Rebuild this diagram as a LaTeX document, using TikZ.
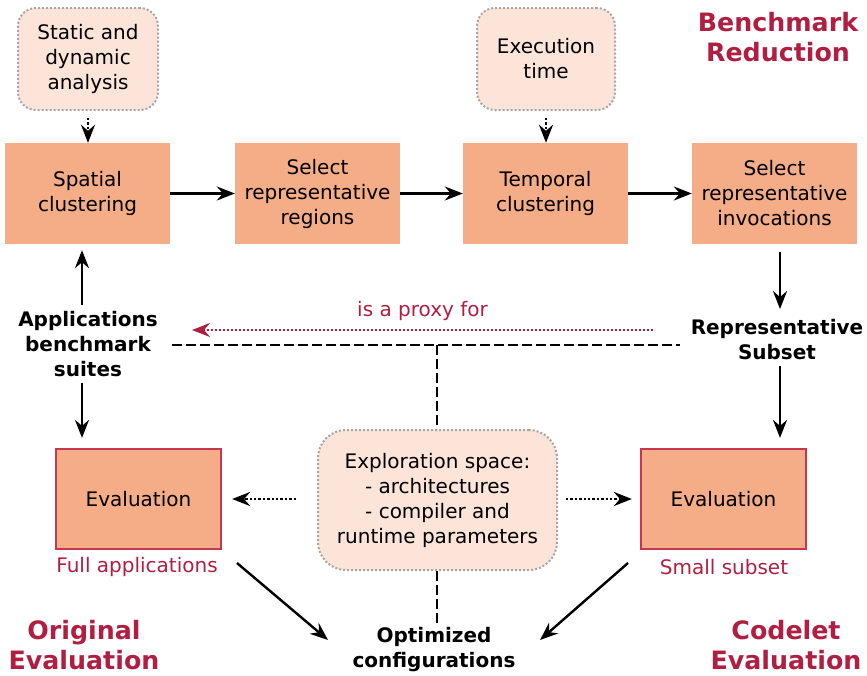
\documentclass[tikz,border=0pt]{standalone}
\usepackage{fontspec}
\setmainfont{DejaVu Sans}
\usetikzlibrary{arrows.meta}
\definecolor{salmon}{HTML}{F5AD87}
\definecolor{peach}{HTML}{FCE4D8}
\definecolor{crim}{HTML}{B01E42}
\definecolor{bordr}{HTML}{C8374F}
\begin{document}
\begin{tikzpicture}[x=1pt,y=-1pt,
 every node/.style={font=\fontsize{20}{25}\selectfont, align=center, inner sep=0pt},
 proc/.style={fill=salmon, minimum width=165pt, minimum height=101pt},
 info/.style={fill=peach, draw=black!35, dotted, line width=2pt, rounded corners=18pt},
 evalbox/.style={fill=salmon, draw=bordr, line width=2.2pt, minimum width=165pt, minimum height=100pt},
 lab/.style={font=\fontsize{20}{25}\selectfont\bfseries},
 head/.style={text=crim, font=\fontsize{25.3}{30}\selectfont\bfseries},
 sub/.style={text=crim},
 arr/.style={-{Stealth[length=18pt,width=14pt,inset=6pt]}, line width=2.4pt},
 dotarr/.style={-{Stealth[length=18pt,width=14pt,inset=6pt]}, line width=2.4pt, dotted},
 proxy/.style={-{Stealth[length=18pt,width=14pt,inset=6pt]}, line width=2pt, dotted, crim},
 dashline/.style={line width=2.2pt, dash pattern=on 10pt off 4pt}
]
\useasboundingbox (0,0) rectangle (867,675);

% top info boxes
\node[info, minimum width=140pt, minimum height=102pt] (sda) at (88,59) {Static and\\dynamic\\analysis};
\node[info, minimum width=138pt, minimum height=102pt] (ext) at (546,59) {Execution\\time};
\node[head] (bench) at (778,37) {Benchmark\\Reduction};

% process row
\node[proc] (spat) at (87.5,193.5) {Spatial\\clustering};
\node[proc] (selr) at (317.5,193.5) {Select\\representative\\regions};
\node[proc] (temp) at (545.5,193.5) {Temporal\\clustering};
\node[proc] (seli) at (774.5,193.5) {Select\\representative\\invocations};

% labels
\node[lab] (apps) at (88,344) {Applications\\benchmark\\suites};
\node[lab] (rep) at (777,339.5) {Representative\\Subset};
\node[lab] (opt) at (434,649.5) {Optimized\\configurations};

% exploration
\node[info, rounded corners=28pt, minimum width=239pt, minimum height=140pt] (expl) at (437.5,500) {Exploration space:\\- architectures\\- compiler and\\runtime parameters};

% evaluation boxes
\node[evalbox] (evl) at (138.5,499) {Evaluation};
\node[evalbox] (evr) at (723.5,499) {Evaluation};
\node[sub] (full) at (137,567) {Full applications};
\node[sub] (small) at (724,567) {Small subset};
\node[head] (orig) at (84,645) {Original\\Evaluation};
\node[head] (code) at (786,645) {Codelet\\Evaluation};

% arrows top
\draw[dotarr, shorten <=7pt] (sda.south) -- (spat.north -| sda.south);
\draw[dotarr, shorten <=7pt] (ext.south) -- (temp.north -| ext.south);
\draw[arr] (spat.east) -- (selr.west);
\draw[arr] (selr.east) -- (temp.west);
\draw[arr] (temp.east) -- (seli.west);

\coordinate (cx) at (780,0);
\draw[arr, shorten <=8pt, shorten >=10pt] (seli.south -| cx) -- (rep.north -| cx);
\draw[arr, shorten <=6pt, shorten >=10pt] (rep.south -| cx) -- (evr.north -| cx);

\coordinate (lx) at (82,0);
\draw[arr, shorten <=6pt, shorten >=6pt] (apps.north -| lx) -- (spat.south -| lx);
\draw[arr, shorten <=6pt, shorten >=10pt] (apps.south -| lx) -- (evl.north -| lx);

% dashed connections
\coordinate (dl) at (172,345);
\coordinate (dr) at (680,345);
\coordinate (dm) at (437,345);
\draw[dashline] (dl) -- (dr);
\draw[dashline] (dm) -- (expl.north -| dm);
\draw[dashline, shorten >=4pt] (expl.south -| dm) -- (opt.north -| dm);

% proxy arrow
\coordinate (p1) at (653,330);
\coordinate (p2) at (192,330);
\draw[proxy] (p1) -- (p2) node[midway, above=8pt, text=crim] {is a proxy for};

% exploration arrows
\draw[dotarr, shorten <=21pt, shorten >=10pt] (expl.west |- evl.east) -- (evl.east);
\draw[dotarr, shorten <=8pt, shorten >=8pt] (expl.east |- evr.west) -- (evr.west);

% to optimized
\coordinate (d1) at (237,563);
\coordinate (d2) at (328,640);
\coordinate (d3) at (628,563);
\coordinate (d4) at (540,640);
\draw[arr] (d1) -- (d2);
\draw[arr] (d3) -- (d4);
\end{tikzpicture}
\end{document}
